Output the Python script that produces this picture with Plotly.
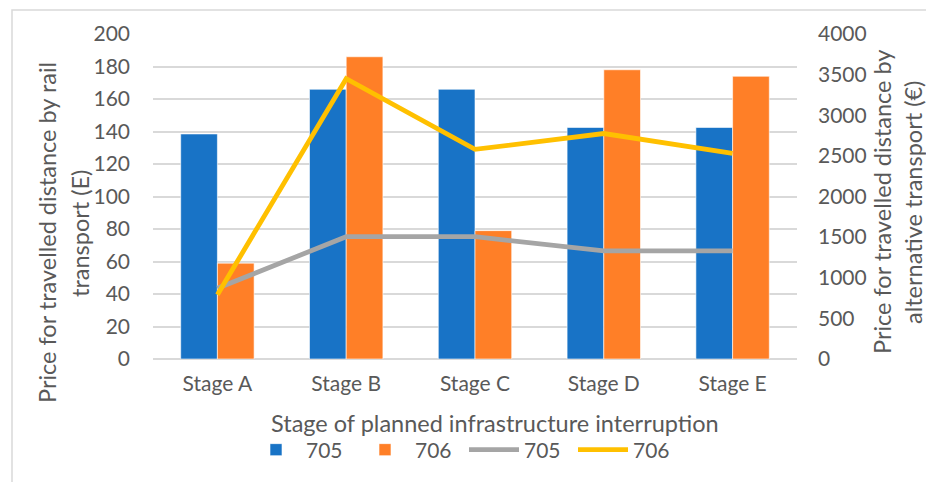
import plotly.graph_objects as go

stages = ["Stage A", "Stage B", "Stage C", "Stage D", "Stage E"]
rail_705 = [138.5, 166, 166, 142.5, 142.5]
rail_706 = [59, 186, 79, 178, 174]
alt_705 = [870, 1505, 1505, 1330, 1330]
alt_706 = [790, 3450, 2580, 2775, 2530]
left_ticks = [0, 20, 40, 60, 80, 100, 120, 140, 160, 180, 200]
right_ticks = [0, 500, 1000, 1500, 2000, 2500, 3000, 3500, 4000]

BLUE = "#1873C6"
ORANGE = "#FF7F27"
GRAY = "#A5A5A5"
GOLD = "#FFC000"
TXT = "#595959"
GRID = "#D9D9D9"
FONT = "Lato"

W, H = 926, 482
L, R, T, B = 153, 129, 34, 123
PW, PH = W - L - R, H - T - B


def px(x):
    return (x - L) / PW


def py(y):
    return (H - B - y) / PH


fig = go.Figure()
fig.add_trace(go.Bar(x=stages, y=rail_705, name="705", marker=dict(color=BLUE, line=dict(color="white", width=0.6))))
fig.add_trace(go.Bar(x=stages, y=rail_706, name="706", marker=dict(color=ORANGE, line=dict(color="white", width=0.6))))
fig.add_trace(go.Scatter(x=stages, y=alt_705, name="705", yaxis="y2", mode="lines",
                         line=dict(color=GRAY, width=4.8)))
fig.add_trace(go.Scatter(x=stages, y=alt_706, name="706", yaxis="y2", mode="lines",
                         line=dict(color=GOLD, width=4.8)))

fig.update_layout(
    width=W, height=H,
    margin=dict(l=L, r=R, t=T, b=B, autoexpand=False),
    paper_bgcolor="white", plot_bgcolor="white",
    font=dict(family=FONT, color=TXT, size=21),
    barmode="group", bargap=0.43, bargroupgap=0,
    xaxis=dict(showgrid=False, showline=False, zeroline=False, ticks="",
               tickfont=dict(size=21, color=TXT), ticklabelstandoff=10),
    yaxis=dict(range=[0, 200], tickvals=left_ticks, showgrid=True, gridcolor=GRID, gridwidth=1.5,
               zeroline=True, zerolinecolor=GRID, zerolinewidth=1.5, showline=False,
               tickfont=dict(size=21, color=TXT), ticklabelstandoff=22),
    yaxis2=dict(range=[0, 4000], tickvals=right_ticks, overlaying="y", side="right",
                showgrid=False, zeroline=False, showline=False,
                tickfont=dict(size=21, color=TXT), ticklabelstandoff=20),
    legend=dict(orientation="h", x=px(464), y=py(450), xanchor="center", yanchor="middle",
                font=dict(size=21, color=TXT), traceorder="normal", itemwidth=50,
                entrywidth=44, entrywidthmode="pixels",
                bgcolor="rgba(0,0,0,0)"),
    showlegend=True,
)

ann = [
    ("Price for travelled distance by rail", 47, 233, -90),
    ("transport (E)", 80, 234, -90),
    ("Price for travelled distance by", 882, 202, -90),
    ("alternative transport (€)", 913, 203, -90),
    ("Stage of planned infrastructure interruption", 494.5, 423, 0),
]
for text, x, y, ang in ann:
    fig.add_annotation(text=text, x=px(x), y=py(y), xref="paper", yref="paper",
                       showarrow=False, textangle=ang, xanchor="center", yanchor="middle",
                       font=dict(size=23.5, color=TXT, family=FONT))

fig.add_shape(type="rect", xref="paper", yref="paper", x0=px(12), x1=px(940), y0=py(10), y1=py(500),
              line=dict(color=GRID, width=1.5), layer="below")

fig.write_html("out.html")
